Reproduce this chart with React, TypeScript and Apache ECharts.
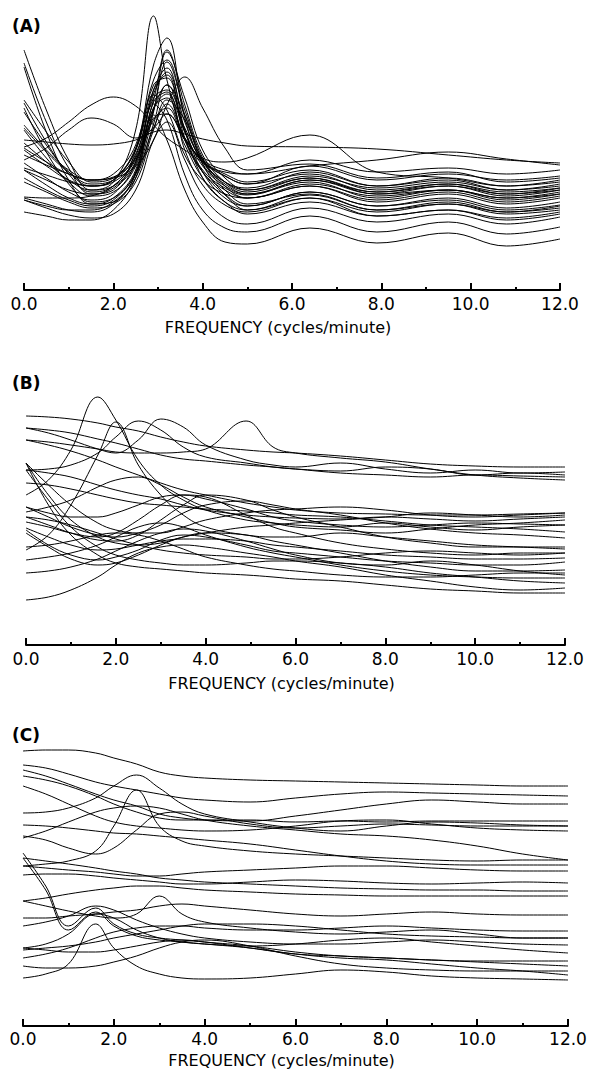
import React, { useEffect, useRef } from "react";
import * as echarts from "echarts";

// Frequency nodes (cycles/minute) for each panel
const XA = [0, 0.5, 1, 1.5, 2, 2.5, 2.9, 3.2, 3.6, 4, 4.5, 5, 6.4, 7.9, 9.5, 10.8, 12];
const XB = [0, 0.5, 1, 1.6, 2, 2.5, 3, 3.5, 4, 4.9, 5.5, 6, 7, 8, 9, 10, 11, 12];
const XC = [0, 0.5, 1, 1.6, 2, 2.5, 3, 3.5, 4, 5, 6, 7, 8, 9, 10, 11, 12];

// Relative spectral power (arbitrary units)
const CURVES_A = [
  [240, 180, 130, 100, 108, 160, 274, 210, 150, 118, 100, 92, 104, 88, 96, 86, 92],
  [227, 168, 122, 96, 100, 140, 225, 252, 172, 126, 106, 96, 108, 92, 100, 90, 96],
  [223, 158, 110, 86, 88, 116, 178, 238, 192, 140, 112, 100, 112, 96, 104, 94, 100],
  [190, 158, 128, 108, 112, 142, 205, 212, 152, 120, 102, 95, 110, 96, 100, 92, 98],
  [187, 148, 116, 98, 104, 134, 192, 200, 162, 130, 114, 106, 124, 110, 116, 110, 114],
  [182, 138, 106, 88, 92, 116, 162, 186, 150, 118, 95, 80, 92, 74, 80, 70, 76],
  [143, 152, 168, 185, 193, 184, 165, 152, 140, 128, 116, 108, 120, 104, 110, 100, 106],
  [165, 140, 120, 110, 112, 124, 150, 185, 213, 182, 142, 120, 126, 112, 118, 108, 112],
  [130, 142, 160, 172, 166, 152, 162, 176, 152, 128, 114, 106, 116, 100, 106, 98, 102],
  [150, 148, 146, 145, 146, 150, 158, 160, 156, 151, 147, 144, 143, 141, 135, 130, 127],
  [120, 110, 100, 96, 102, 126, 182, 192, 152, 132, 128, 132, 155, 118, 112, 104, 108],
  [135, 125, 116, 110, 113, 132, 172, 176, 150, 130, 120, 116, 124, 130, 138, 131, 125],
  [78, 74, 70, 70, 80, 112, 175, 150, 100, 68, 48, 46, 62, 47, 57, 44, 51],
  [92, 86, 80, 78, 86, 116, 186, 170, 115, 80, 62, 58, 74, 58, 68, 56, 63],
  [90, 82, 75, 72, 76, 100, 150, 168, 130, 95, 72, 66, 82, 68, 76, 66, 73],
  [120, 105, 92, 86, 92, 120, 188, 198, 140, 105, 85, 78, 92, 78, 86, 76, 80],
  [127, 112, 98, 90, 96, 128, 200, 222, 160, 112, 88, 80, 95, 80, 88, 78, 84],
  [112, 100, 90, 84, 90, 118, 180, 205, 160, 118, 92, 84, 98, 84, 92, 82, 88],
  [108, 98, 88, 82, 86, 108, 160, 190, 170, 130, 100, 86, 96, 80, 86, 78, 82],
  [122, 115, 108, 104, 110, 140, 195, 180, 135, 110, 96, 92, 106, 94, 100, 92, 96],
  [142, 128, 116, 110, 116, 145, 210, 230, 175, 130, 108, 100, 114, 102, 108, 100, 104],
  [162, 138, 118, 106, 110, 136, 196, 218, 168, 128, 108, 102, 118, 104, 112, 104, 110],
  [147, 128, 110, 100, 104, 128, 182, 196, 158, 124, 104, 96, 110, 98, 104, 96, 100],
  [93, 92, 92, 94, 104, 130, 170, 182, 145, 112, 88, 76, 88, 74, 80, 72, 78],
  [90, 84, 80, 80, 88, 112, 166, 205, 175, 126, 96, 84, 98, 84, 90, 80, 85],
  [140, 124, 110, 104, 110, 140, 200, 215, 158, 128, 118, 116, 130, 118, 122, 116, 120],
  [178, 145, 118, 104, 108, 132, 190, 240, 185, 135, 108, 98, 112, 98, 106, 96, 102],
  [160, 132, 108, 94, 98, 124, 180, 228, 180, 132, 104, 92, 104, 90, 98, 88, 94],
];

const CURVES_B = [
  [229, 228, 226, 222, 218, 214, 208, 203, 199, 195, 193, 192, 189, 185, 181, 179, 178, 178],
  [205, 203, 200, 196, 193, 192, 192, 193, 196, 224, 198, 192, 187, 183, 176, 170, 167, 165],
  [217, 212, 205, 196, 192, 205, 226, 218, 200, 185, 180, 178, 182, 176, 172, 175, 172, 173],
  [175, 176, 180, 192, 208, 224, 215, 198, 188, 182, 178, 176, 174, 178, 176, 170, 172, 170],
  [150, 165, 195, 248, 225, 185, 160, 145, 135, 125, 122, 120, 118, 122, 118, 115, 118, 120],
  [95, 110, 140, 190, 223, 180, 150, 130, 118, 110, 108, 108, 112, 108, 104, 100, 98, 96],
  [182, 150, 125, 108, 102, 100, 102, 108, 112, 118, 120, 122, 125, 128, 132, 130, 128, 130],
  [182, 160, 140, 122, 115, 112, 112, 118, 125, 132, 135, 136, 138, 135, 130, 128, 130, 132],
  [175, 172, 168, 160, 155, 150, 146, 140, 135, 130, 128, 127, 126, 128, 126, 124, 126, 128],
  [162, 160, 156, 150, 146, 142, 140, 138, 136, 134, 132, 130, 128, 124, 120, 118, 116, 113],
  [138, 128, 118, 110, 108, 112, 120, 132, 140, 144, 140, 136, 130, 122, 116, 112, 110, 107],
  [133, 138, 145, 158, 165, 168, 160, 148, 138, 128, 122, 118, 115, 112, 116, 120, 122, 125],
  [128, 120, 112, 105, 104, 110, 125, 140, 150, 145, 135, 128, 118, 108, 102, 98, 98, 98],
  [123, 118, 112, 108, 112, 125, 140, 150, 148, 130, 118, 112, 102, 96, 92, 90, 92, 92],
  [117, 108, 100, 95, 96, 100, 104, 106, 106, 104, 100, 98, 94, 90, 88, 86, 86, 87],
  [115, 100, 90, 85, 88, 95, 105, 110, 108, 100, 94, 92, 88, 84, 82, 80, 80, 83],
  [112, 98, 86, 80, 82, 90, 100, 108, 112, 110, 104, 100, 92, 84, 78, 74, 74, 75],
  [98, 100, 104, 110, 112, 110, 104, 96, 88, 80, 76, 74, 70, 68, 68, 70, 72, 72],
  [85, 88, 92, 100, 108, 118, 122, 118, 110, 98, 92, 88, 80, 74, 70, 68, 67, 67],
  [72, 74, 78, 86, 94, 104, 112, 116, 114, 104, 96, 90, 82, 80, 84, 80, 74, 70],
  [45, 48, 55, 68, 80, 92, 98, 100, 98, 92, 88, 84, 78, 70, 64, 58, 55, 57],
  [182, 140, 110, 90, 82, 78, 76, 74, 72, 70, 68, 66, 64, 60, 56, 54, 52, 52],
  [175, 145, 118, 98, 90, 85, 82, 80, 80, 82, 84, 84, 82, 78, 72, 68, 64, 62],
  [128, 125, 120, 112, 106, 100, 95, 92, 90, 88, 86, 86, 88, 92, 94, 92, 90, 92],
  [205, 200, 194, 185, 178, 170, 162, 155, 150, 142, 138, 135, 132, 131, 130, 130, 131, 132],
  [217, 215, 212, 206, 202, 196, 190, 186, 184, 180, 178, 176, 172, 170, 168, 170, 169, 168],
  [138, 132, 128, 128, 132, 140, 148, 150, 146, 136, 128, 124, 120, 118, 120, 122, 121, 120],
];

const CURVES_C = [
  [275, 276, 276, 273, 268, 262, 254, 250, 248, 246, 245, 244, 243, 242, 241, 240, 240],
  [261, 258, 252, 244, 240, 236, 232, 228, 226, 224, 228, 232, 234, 233, 232, 231, 230],
  [256, 250, 242, 232, 226, 220, 212, 208, 206, 205, 210, 216, 222, 226, 224, 222, 222],
  [213, 214, 218, 228, 240, 251, 238, 222, 212, 204, 198, 195, 200, 204, 203, 201, 200],
  [160, 162, 165, 175, 200, 236, 200, 185, 180, 175, 172, 170, 168, 166, 165, 166, 166],
  [240, 232, 222, 210, 204, 200, 198, 196, 195, 196, 200, 205, 206, 202, 198, 196, 195],
  [188, 195, 204, 214, 218, 220, 218, 212, 206, 200, 196, 192, 190, 186, 180, 172, 166],
  [201, 200, 198, 195, 193, 192, 190, 188, 186, 182, 176, 170, 165, 162, 161, 161, 161],
  [173, 140, 100, 118, 102, 92, 88, 86, 84, 80, 74, 70, 68, 66, 64, 62, 60],
  [168, 136, 96, 114, 100, 90, 86, 84, 82, 78, 72, 68, 66, 62, 58, 55, 51],
  [125, 120, 115, 110, 108, 112, 130, 112, 104, 98, 94, 92, 94, 96, 92, 88, 88],
  [78, 82, 92, 112, 108, 96, 88, 84, 82, 80, 82, 86, 88, 84, 80, 76, 73],
  [100, 104, 110, 120, 116, 106, 98, 92, 88, 84, 82, 82, 84, 86, 84, 82, 81],
  [108, 108, 110, 112, 114, 116, 120, 122, 120, 116, 112, 110, 112, 114, 112, 111, 111],
  [151, 152, 152, 150, 148, 146, 144, 142, 142, 144, 146, 145, 143, 142, 143, 144, 143],
  [160, 158, 156, 154, 152, 150, 150, 152, 154, 156, 158, 160, 160, 158, 156, 155, 155],
  [168, 165, 162, 158, 155, 152, 148, 146, 144, 142, 140, 138, 137, 136, 136, 135, 135],
  [76, 78, 80, 84, 88, 92, 96, 100, 102, 102, 100, 96, 92, 90, 89, 88, 88],
  [68, 72, 78, 88, 94, 98, 100, 100, 98, 96, 96, 98, 100, 98, 96, 95, 95],
  [48, 52, 62, 102, 78, 60, 52, 48, 47, 48, 52, 56, 54, 50, 48, 47, 46],
  [125, 128, 132, 136, 138, 140, 140, 138, 136, 134, 132, 131, 130, 130, 130, 130, 130],
  [250, 246, 240, 230, 222, 214, 208, 206, 206, 206, 204, 205, 204, 205, 205, 205, 205],
  [190, 186, 178, 172, 178, 196, 212, 214, 210, 202, 198, 200, 202, 201, 200, 200, 200],
  [78, 76, 74, 74, 76, 80, 84, 86, 84, 78, 72, 70, 68, 66, 65, 65, 65],
  [60, 58, 58, 60, 64, 70, 78, 84, 86, 80, 70, 62, 58, 56, 55, 55, 55],
];

const TITLES = ["(A)", "(B)", "(C)"];
const X_TICKS = [0, 2, 4, 6, 8, 10, 12];
const X_NAME = "FREQUENCY (cycles/minute)";

export default function App() {
  const ref = useRef<HTMLDivElement>(null);

  useEffect(() => {
    if (!ref.current) return;
    const chart = echarts.init(ref.current, undefined, { renderer: "svg" });

    const panels = [
      { xs: XA, curves: CURVES_A, left: 24, width: 536, top: 10, height: 280, labelMargin: 5, nameGap: 29, titleTop: 17 },
      { xs: XB, curves: CURVES_B, left: 26, width: 539, top: 385, height: 260, labelMargin: 5, nameGap: 30, titleTop: 374 },
      { xs: XC, curves: CURVES_C, left: 23, width: 545, top: 740, height: 286, labelMargin: 4, nameGap: 26, titleTop: 726 },
    ];

    const grids: any[] = [];
    const xAxes: any[] = [];
    const yAxes: any[] = [];
    const series: any[] = [];
    const titles: any[] = [];

    panels.forEach((p, i) => {
      grids.push({ left: p.left, top: p.top, width: p.width, height: p.height, containLabel: false });
      xAxes.push({
        gridIndex: i,
        type: "value",
        min: X_TICKS[0],
        max: X_TICKS[X_TICKS.length - 1],
        interval: 2,
        name: X_NAME,
        nameLocation: "middle",
        nameGap: p.nameGap,
        nameTextStyle: { fontFamily: "DejaVu Sans", fontSize: 16, color: "#000", padding: [0, 28, 0, 0] },
        axisLine: { show: true, onZero: false, lineStyle: { color: "#000", width: 2 } },
        axisTick: { show: true, inside: true, length: 7, lineStyle: { color: "#000", width: 2 } },
        minorTick: { show: true, splitNumber: 2, length: 3, lineStyle: { color: "#000", width: 2 } },
        splitLine: { show: false },
        axisLabel: {
          margin: p.labelMargin,
          fontFamily: "DejaVu Sans",
          fontSize: 17,
          color: "#000",
          formatter: (v: number) => v.toFixed(1),
        },
      });
      yAxes.push({ gridIndex: i, type: "value", min: 0, max: p.height, show: false });
      p.curves.forEach((vals, k) => {
        series.push({
          type: "line",
          name: `${TITLES[i]}-${k + 1}`,
          xAxisIndex: i,
          yAxisIndex: i,
          data: p.xs.map((x, j) => [x, vals[j]]),
          smooth: 0.4,
          showSymbol: false,
          silent: true,
          lineStyle: { color: "#000", width: 1 },
        });
      });
      titles.push({
        text: TITLES[i],
        left: 12,
        top: p.titleTop,
        padding: 0,
        textStyle: { fontFamily: "DejaVu Sans", fontWeight: "bold", fontSize: 17, color: "#000" },
      });
    });

    chart.setOption({
      animation: false,
      backgroundColor: "#fff",
      title: titles,
      grid: grids,
      xAxis: xAxes,
      yAxis: yAxes,
      series,
    });

    return () => chart.dispose();
  }, []);

  return (
    <div
      ref={ref}
      style={{ position: "absolute", left: 0, top: 0, width: 599, height: 1070, background: "#fff" }}
    />
  );
}
